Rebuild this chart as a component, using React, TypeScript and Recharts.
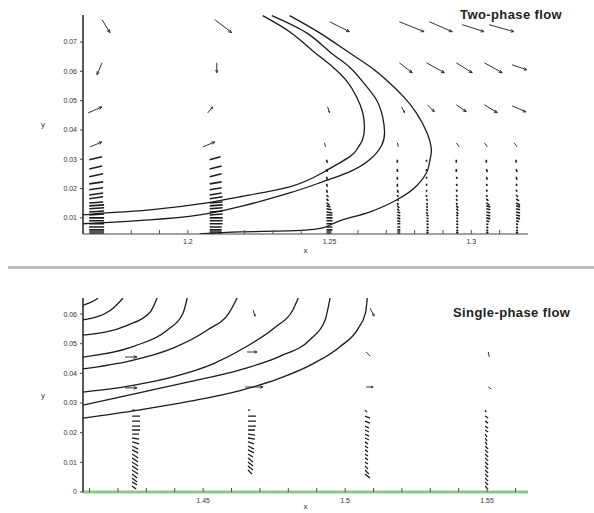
import React from 'react';
import { LineChart, Line, XAxis, YAxis } from 'recharts';

// ---- top panel (two-phase) ----
const TOP_X_TICKS = [1.17, 1.18, 1.19, 1.2, 1.21, 1.22, 1.23, 1.24, 1.25, 1.26, 1.27, 1.28, 1.29, 1.3, 1.31];
const TOP_Y_TICKS = [0.01, 0.02, 0.03, 0.04, 0.05, 0.06, 0.07];

// contour lines, [x, y]
const TOP_C1 = [
  [1.2264, 0.079], [1.2359, 0.0735], [1.2437, 0.0673], [1.2511, 0.0615], [1.2563, 0.0564],
  [1.2595, 0.0513], [1.2616, 0.0462], [1.2623, 0.0411], [1.2616, 0.0366], [1.2595, 0.0332],
  [1.257, 0.0308], [1.2475, 0.0254], [1.2359, 0.0206], [1.2183, 0.0172], [1.2067, 0.0151],
  [1.1866, 0.0127], [1.1715, 0.0117], [1.163, 0.011],
];
const TOP_C2 = [
  [1.2296, 0.079], [1.2419, 0.0731], [1.25, 0.0667], [1.257, 0.0615], [1.2623, 0.0557],
  [1.2665, 0.0503], [1.2687, 0.0445], [1.2694, 0.039], [1.2683, 0.0346], [1.2641, 0.0298],
  [1.257, 0.0257], [1.2475, 0.0223], [1.2359, 0.0185], [1.2183, 0.0138], [1.2042, 0.011],
  [1.1866, 0.0093], [1.163, 0.008],
];
const TOP_C3 = [
  [1.2359, 0.079], [1.2465, 0.0731], [1.257, 0.0663], [1.2648, 0.0612], [1.2711, 0.0561],
  [1.2764, 0.051], [1.2806, 0.0458], [1.2842, 0.0394], [1.2859, 0.0332], [1.2852, 0.0288],
  [1.2842, 0.0254], [1.2799, 0.0202], [1.2736, 0.0161], [1.2641, 0.012], [1.2535, 0.009],
  [1.2475, 0.0066], [1.2359, 0.0056], [1.2183, 0.0052], [1.2042, 0.0045],
];

// free-stream vectors, [x, y, u, v]
const TOP_ARROWS = [
  [1.1697, 0.0776, 8, -13], [1.2095, 0.0776, 17, -13], [1.25, 0.0769, 20, -10], [1.2746, 0.0769, 25, -10],
  [1.2852, 0.0769, 23, -10], [1.2968, 0.0759, 22, -7], [1.3063, 0.0759, 25, -7],
  [1.1697, 0.0629, -5, -12], [1.2102, 0.0629, 0, -10], [1.2746, 0.0629, 13, -10], [1.2842, 0.0629, 18, -10],
  [1.2947, 0.0629, 16, -10], [1.3046, 0.0629, 18, -10], [1.3144, 0.0622, 15, -5],
  [1.1648, 0.0458, 14, 6], [1.207, 0.0458, 5, 6], [1.2493, 0.0479, 2, -6], [1.2754, 0.0479, 3, -6],
  [1.2845, 0.0486, 7, -7], [1.2947, 0.0486, 10, -7], [1.3046, 0.0486, 13, -8], [1.3144, 0.0482, 14, -6],
  [1.1655, 0.0342, 12, 5], [1.2053, 0.0342, 12, 5], [1.2482, 0.0356, 1, -4], [1.2739, 0.0356, 1, -4],
  [1.2947, 0.0356, 3, -4], [1.3046, 0.0356, 3, -4], [1.3151, 0.0356, 3, -4],
];

// near-wall vector columns
const TOP_WALL_X = [1.1652, 1.2077, 1.2489, 1.2739, 1.2842, 1.2947, 1.3053, 1.3158];
const TOP_WALL_Y = [0.0298, 0.0267, 0.024, 0.0216, 0.0196, 0.0178, 0.0165, 0.0151, 0.0141,
  0.0131, 0.012, 0.011, 0.01, 0.009, 0.008, 0.0069, 0.0059, 0.0052, 0.0045];
const TOP_WALL_U = [
  [13, 13, 14, 14, 14, 14, 14, 14, 15, 15, 15, 15, 15, 15, 15, 15, 15, 15, 15],
  [11, 12, 12, 12, 12, 12, 13, 13, 13, 13, 13, 13, 13, 13, 13, 12, 12, 12, 12],
  [1, 1, 1, 1, 1, 2, 2, 3, 4, 5, 6, 6, 6, 6, 6, 6, 6, 5, 5],
  [0, 0, 0, 0, 1, 1, 1, 1, 2, 2, 3, 3, 3, 3, 3, 3, 3, 3, 3],
  [0, 0, 0, 0, 0, 0, 1, 1, 1, 1, 1, 2, 2, 2, 2, 2, 2, 2, 2],
  [0, 0, 1, 1, 1, 1, 1, 1, 2, 2, 2, 2, 2, 2, 2, 2, 2, 2, 2],
  [0, 1, 1, 1, 1, 1, 2, 3, 4, 4, 4, 4, 4, 3, 2, 2, 2, 2, 2],
  [0, 1, 1, 1, 1, 2, 3, 4, 4, 4, 4, 4, 4, 3, 2, 2, 2, 2, 2],
];
const TOP_WALL_V = [
  [3, 3, 3, 2, 2, 2, 2, 1, 1, 1, 1, 1, 0, 0, 0, 0, 0, 0, 0],
  [3, 3, 3, 2, 2, 2, 2, 1, 1, 1, 1, 1, 0, 0, 0, 0, 0, 0, 0],
  [-3, -3, -3, -3, -3, -2, -2, -2, -1, -1, -1, 0, 0, 0, 0, 0, 0, 0, 0],
  [-3, -3, -3, -3, -3, -2, -2, -2, -2, -2, -1, -1, -1, -1, 0, 0, 0, 0, 0],
  [-2, -2, -2, -2, -2, -2, -2, -2, -2, -2, -2, -1, -1, -1, -1, -1, -1, -1, -1],
  [-3, -3, -2, -2, -2, -2, -2, -2, -2, -2, -2, -1, -1, -1, -1, -1, -1, -1, -1],
  [-3, -3, -3, -2, -2, -2, -2, -2, -1, -1, -1, -1, -1, -1, -1, -1, -1, -1, -1],
  [-3, -3, -3, -2, -2, -2, -2, -2, -1, -1, -1, -1, -1, -1, -1, -1, -1, -1, -1],
];

// ---- bottom panel (single-phase) ----
const BOT_X_TICKS = [1.41, 1.42, 1.43, 1.44, 1.45, 1.46, 1.47, 1.48, 1.49, 1.5, 1.51, 1.52, 1.53, 1.54, 1.55, 1.56];
const BOT_Y_TICKS = [0, 0.01, 0.02, 0.03, 0.04, 0.05, 0.06];

const BOT_C = [
  [[1.4077, 0.0249], [1.4278, 0.0277], [1.4454, 0.0306], [1.463, 0.0342], [1.4766, 0.0382],
    [1.4886, 0.0432], [1.4982, 0.049], [1.5045, 0.055], [1.5072, 0.0605], [1.5078, 0.0654]],
  [[1.4077, 0.0293], [1.4278, 0.0335], [1.4454, 0.0372], [1.463, 0.0412], [1.4772, 0.0458],
    [1.4878, 0.0515], [1.4929, 0.0578], [1.4947, 0.0654]],
  [[1.4077, 0.0337], [1.4243, 0.0358], [1.4394, 0.0388], [1.4535, 0.0432], [1.4656, 0.0492],
    [1.4756, 0.0557], [1.4815, 0.0612], [1.4835, 0.0654]],
  [[1.4077, 0.0415], [1.4243, 0.0442], [1.4394, 0.0485], [1.4515, 0.0546], [1.4592, 0.0605],
    [1.462, 0.0654]],
  [[1.4077, 0.0455], [1.4258, 0.0492], [1.4371, 0.0544], [1.4428, 0.06], [1.4444, 0.0654]],
  [[1.4077, 0.0529], [1.4233, 0.0562], [1.4313, 0.0606], [1.4338, 0.0654]],
  [[1.4077, 0.058], [1.4173, 0.0612], [1.4218, 0.0654]],
  [[1.4077, 0.063], [1.412, 0.0647], [1.413, 0.0654]],
];

const BOT_ARROWS = [
  [1.4225, 0.0455, 12, 0], [1.4225, 0.0351, 12, 0], [1.4676, 0.0613, 2, -6], [1.4655, 0.0472, 10, 0],
  [1.4648, 0.0354, 18, 0], [1.5088, 0.062, 4, -8], [1.5074, 0.0472, 4, -4], [1.5074, 0.0354, 7, 0],
  [1.5504, 0.0472, 1, -5], [1.5504, 0.0354, 3, -2],
];

const BOT_WALL_X = [1.425, 1.4658, 1.507, 1.5493];
const BOT_WALL_Y = [0.0276, 0.0256, 0.0239, 0.0222, 0.0209, 0.0195, 0.0182, 0.0169, 0.0155, 0.0142,
  0.0128, 0.0115, 0.0101, 0.0088, 0.0074, 0.0061, 0.0047, 0.0034, 0.002];
const BOT_WALL_U = [
  [3, 8, 8, 8, 8, 7, 7, 7, 6, 6, 6, 6, 6, 6, 6, 5, 5, 5, 4],
  [2, 8, 8, 8, 7, 7, 7, 6, 6, 6, 5, 5, 5, 5, 4, 0, 0, 0, 0],
  [2, 5, 5, 4, 4, 4, 4, 3, 3, 3, 3, 3, 3, 3, 4, 5, 0, 0, 0],
  [1, 3, 3, 3, 3, 2, 2, 2, 3, 3, 3, 3, 3, 3, 3, 3, 3, 3, 3],
];
const BOT_WALL_V = [
  [0, 0, 0, 0, 0, 0, -1, -2, -3, -3, -4, -4, -4, -4, -4, -4, -4, -3, -3],
  [0, 0, 0, 0, 0, -1, -1, -2, -3, -3, -3, -4, -4, -4, -4, 0, 0, 0, 0],
  [-2, -2, -2, -2, -2, -2, -2, -2, -2, -2, -2, -2, -2, -3, -4, -4, 0, 0, 0],
  [-2, -2, -2, -2, -2, -3, -3, -3, -3, -3, -3, -3, -3, -3, -3, -3, -3, -3, -3],
];

// quiver scale: data units per unit of u / v
const QX = 0.00035;
const QY = 0.00034;

type Pt = { x: number; y: number | null };

const toPts = (c: number[][]): Pt[] => c.map(([x, y]) => ({ x, y }));

function wallArrows(xs: number[], ys: number[], us: number[][], vs: number[][]) {
  const out: number[][] = [];
  xs.forEach((x, i) => ys.forEach((y, j) => out.push([x, y, us[i][j], vs[i][j]])));
  return out;
}

// turn vectors into one broken polyline (null breaks the path)
function quiver(arrows: number[][], heads: boolean): Pt[] {
  const out: Pt[] = [];
  for (const [x, y, u, v] of arrows) {
    if (u === 0 && v === 0) continue;
    const x2 = x + u * QX;
    const y2 = y + v * QY;
    out.push({ x, y }, { x: x2, y: y2 });
    const len = Math.hypot(u, v);
    if (heads && len >= 6) {
      const h = Math.min(3.5, len * 0.3);
      [0.4, -0.4].forEach((a, k) => {
        const c = Math.cos(a);
        const s = Math.sin(a);
        const hx = ((-u * c + v * s) / len) * h;
        const hy = ((-u * s - v * c) / len) * h;
        if (k === 1) out.push({ x: x2, y: null }, { x: x2, y: y2 });
        out.push({ x: x2 + hx * QX, y: y2 + hy * QY });
      });
    }
    out.push({ x: x2, y: null });
  }
  return out;
}

const topArrows = quiver(TOP_ARROWS, true);
const topWall = quiver(wallArrows(TOP_WALL_X, TOP_WALL_Y, TOP_WALL_U, TOP_WALL_V), false);
const botArrows = quiver(BOT_ARROWS, true);
const botWall = quiver(wallArrows(BOT_WALL_X, BOT_WALL_Y, BOT_WALL_U, BOT_WALL_V), false);

const fmtX = (v: number) => (Math.round(v * 100) % 5 === 0 ? String(+v.toFixed(2)) : '');
const fmtY = (v: number) => (v === 0 ? '0' : v.toFixed(2));

const FONT = '"Liberation Sans", Arial, sans-serif';
const tickStyle = { fontSize: 7, fill: '#333', fontFamily: FONT };

const lineProps = {
  dataKey: 'y',
  dot: false,
  activeDot: false,
  isAnimationActive: false,
  connectNulls: false,
} as const;

const titleStyle: React.CSSProperties = {
  position: 'absolute',
  fontSize: 13,
  fontWeight: 'bold',
  letterSpacing: 0.4,
  color: '#222',
  whiteSpace: 'nowrap',
};

export default function App() {
  return (
    <div style={{ position: 'absolute', left: 0, top: 0, width: 594, height: 513, background: '#fff', fontFamily: FONT }}>
      <div style={{ position: 'absolute', left: 0, top: 0 }}>
        <LineChart width={594} height={268} margin={{ top: 15, right: 66, bottom: 4, left: 0 }}>
          <XAxis
            type="number"
            dataKey="x"
            domain={[1.163, 1.32]}
            allowDataOverflow
            ticks={TOP_X_TICKS}
            tickFormatter={fmtX}
            interval={0}
            height={30}
            tickSize={-4}
            tickMargin={9}
            axisLine={{ stroke: '#444' }}
            tickLine={{ stroke: '#555' }}
            tick={tickStyle}
            label={{ value: 'x', position: 'insideBottom', offset: 11, fontSize: 8, fill: '#333' }}
          />
          <YAxis
            type="number"
            domain={[0.0045, 0.0792]}
            allowDataOverflow
            ticks={TOP_Y_TICKS}
            tickFormatter={fmtY}
            interval={0}
            width={83}
            tickSize={3}
            tickMargin={3}
            axisLine={{ stroke: '#222', strokeWidth: 1.5 }}
            tickLine={{ stroke: '#444' }}
            tick={tickStyle}
            label={{ value: 'y', position: 'insideLeft', offset: 41, fontSize: 8, fill: '#333' }}
          />
          <Line {...lineProps} data={topWall} type="linear" stroke="#1e1e1e" strokeWidth={1.6} />
          <Line {...lineProps} data={topArrows} type="linear" stroke="#333" strokeWidth={1} />
          <Line {...lineProps} data={toPts(TOP_C1)} type="natural" stroke="#1a1a1a" strokeWidth={1.3} />
          <Line {...lineProps} data={toPts(TOP_C2)} type="natural" stroke="#1a1a1a" strokeWidth={1.3} />
          <Line {...lineProps} data={toPts(TOP_C3)} type="natural" stroke="#1a1a1a" strokeWidth={1.3} />
        </LineChart>
      </div>
      <div style={{ position: 'absolute', left: 0, top: 268 }}>
        <LineChart width={594} height={245} margin={{ top: 30, right: 66, bottom: 0, left: 0 }}>
          <XAxis
            type="number"
            dataKey="x"
            domain={[1.4077, 1.5644]}
            allowDataOverflow
            ticks={BOT_X_TICKS}
            tickFormatter={fmtX}
            interval={0}
            height={21}
            tickSize={-4}
            tickMargin={10}
            axisLine={{ stroke: '#8cc88c', strokeWidth: 3 }}
            tickLine={{ stroke: '#555' }}
            tick={tickStyle}
            label={{ value: 'x', position: 'insideBottom', offset: 4, fontSize: 8, fill: '#333' }}
          />
          <YAxis
            type="number"
            domain={[0, 0.0654]}
            allowDataOverflow
            ticks={BOT_Y_TICKS}
            tickFormatter={fmtY}
            interval={0}
            width={83}
            tickSize={3}
            tickMargin={3}
            axisLine={{ stroke: '#222', strokeWidth: 1.5 }}
            tickLine={{ stroke: '#444' }}
            tick={tickStyle}
            label={{ value: 'y', position: 'insideLeft', offset: 41, fontSize: 8, fill: '#333' }}
          />
          <Line {...lineProps} data={botWall} type="linear" stroke="#1e1e1e" strokeWidth={1.3} />
          <Line {...lineProps} data={botArrows} type="linear" stroke="#333" strokeWidth={1} />
          {BOT_C.map((c, i) => (
            <Line key={i} {...lineProps} data={toPts(c)} type="monotoneX" stroke="#1a1a1a" strokeWidth={1.3} />
          ))}
        </LineChart>
      </div>
      <div style={{ position: 'absolute', left: 8, top: 266, width: 586, height: 3, background: '#bdbdbd' }} />
      <div style={{ ...titleStyle, left: 460, top: 7 }}>Two-phase flow</div>
      <div style={{ ...titleStyle, left: 453, top: 305 }}>Single-phase flow</div>
    </div>
  );
}
